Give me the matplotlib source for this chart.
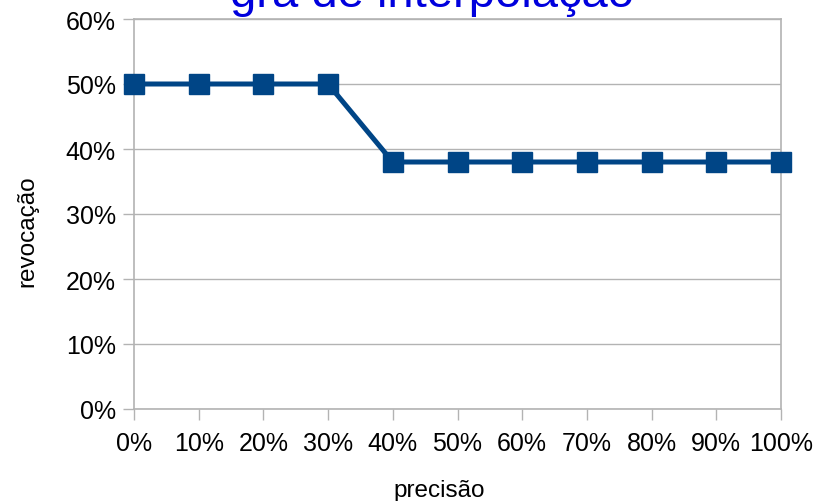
import matplotlib
matplotlib.use("Agg")
import matplotlib.pyplot as plt
from matplotlib.ticker import FuncFormatter, MultipleLocator

# Data
precisao = [0, 10, 20, 30, 40, 50, 60, 70, 80, 90, 100]
revocacao = [50, 50, 50, 50, 38, 38, 38, 38, 38, 38, 38]
titulo = "grá de interpolação"

plt.rcParams["font.family"] = ["Liberation Sans", "DejaVu Sans"]

fig = plt.figure(figsize=(8.25, 5.02), dpi=100)
ax = fig.add_axes([134 / 825, 92 / 502, (781 - 134) / 825, (410 - 20) / 502])

line_color = "#004586"
grid_color = "#b3b3b3"

ax.plot(precisao, revocacao, color=line_color, linewidth=3.6,
        marker="s", markersize=14, markerfacecolor=line_color,
        markeredgecolor=line_color, clip_on=False, zorder=3)

ax.set_xlim(0, 100)
ax.set_ylim(0, 60)
ax.xaxis.set_major_locator(MultipleLocator(10))
ax.yaxis.set_major_locator(MultipleLocator(10))
pct = FuncFormatter(lambda v, _: f"{v:.0f}%")
ax.xaxis.set_major_formatter(pct)
ax.yaxis.set_major_formatter(pct)

ax.grid(axis="y", color=grid_color, linewidth=1.0)
ax.set_axisbelow(True)
for s in ax.spines.values():
    s.set_color(grid_color)
    s.set_linewidth(1.2)

ax.tick_params(axis="both", direction="out", length=8, width=1.0,
               color=grid_color, labelsize=18, labelcolor="black")
ax.tick_params(axis="x", pad=8)
ax.tick_params(axis="y", pad=5)

# Axis titles placed in figure coordinates
fig.text(439 / 825, 1 - 491 / 502, "precisão", fontsize=17.5,
         ha="center", va="center")
fig.text(27 / 825, 1 - 231 / 502, "revocação", fontsize=17.5,
         ha="center", va="center", rotation=90)

fig.text(432 / 825, 1 - 7 / 502, titulo, color="#0000dd", fontsize=34,
         ha="center", va="baseline")

fig.savefig("out.png", dpi=100)
